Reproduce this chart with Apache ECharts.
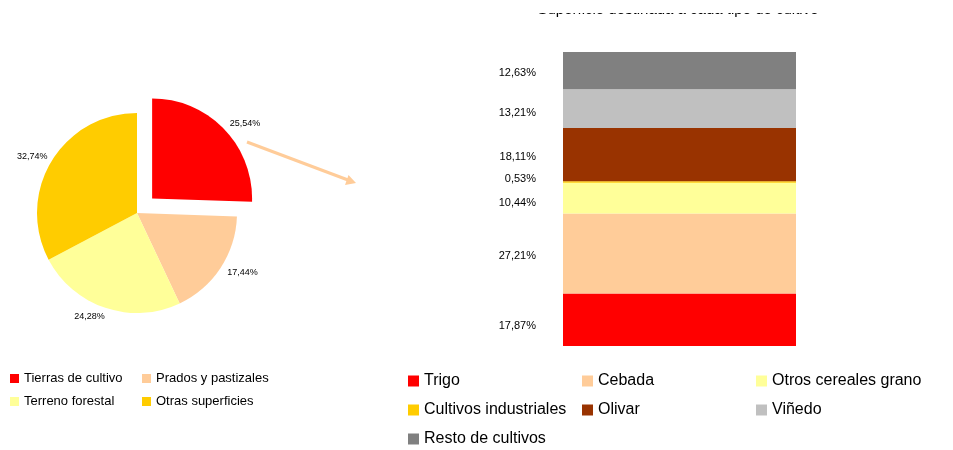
<!DOCTYPE html>
<html><head><meta charset="utf-8">
<script src="https://cdn.jsdelivr.net/npm/echarts@6/dist/echarts.min.js"></script>
<style>html,body{margin:0;background:#fff}#c{width:953px;height:450px}</style>
</head><body><div id="c"></div>
<script>
// Superficie: reparto general (tarta) y detalle de tierras de cultivo (columna 100%)
const pieNames = ['Tierras de cultivo','Prados y pastizales','Terreno forestal','Otras superficies'];
const pieVals  = [25.54, 17.44, 24.28, 32.74];
const pieCols  = ['#FF0000','#FFCC99','#FFFF99','#FFCC00'];
const cropNames = ['Trigo','Cebada','Otros cereales grano','Cultivos industriales','Olivar','Viñedo','Resto de cultivos'];
const cropVals  = [17.87, 27.21, 10.44, 0.53, 18.11, 13.21, 12.63];
const cropCols  = ['#FF0000','#FFCC99','#FFFF99','#FFCC00','#993300','#C0C0C0','#808080'];
const TITLE = 'Superficie destinada a cada tipo de cultivo';
// small label nudges, as in the original
const pieLabelOff = [[0,-6],[0,0],[2,1],[3,-1]];
const labelDy = [6, 3, 5, -3, 2, 4, 2];

const F = 'Liberation Sans, Arial, sans-serif';
const pct = v => v.toFixed(2).replace('.', ',') + '%';

const leg = (data, left, top, sz, gap, fs) => ({
  data, left, top, orient:'vertical', itemGap:gap, itemWidth:sz, itemHeight:sz, icon:'rect',
  selectedMode:false, padding:0, textStyle:{fontSize:fs, color:'#000', fontFamily:F}
});

const c = echarts.init(document.getElementById('c'), null, {renderer:'canvas'});
c.setOption({
  animation:false,
  textStyle:{fontFamily:F},
  grid:{left:563, right:157, top:52, bottom:104},
  xAxis:{type:'category', data:['Cultivos'], show:false},
  yAxis:{type:'value', min:0, max:100, show:false},
  legend:[
    leg(['Tierras de cultivo','Terreno forestal'], 10, 372, 9, 10, 13),
    leg(['Prados y pastizales','Otras superficies'], 142, 372, 9, 10, 13),
    leg(['Trigo','Cultivos industriales','Resto de cultivos'], 408, 373, 11, 13, 16),
    leg(['Cebada','Olivar'], 582, 373, 11, 13, 16),
    leg(['Otros cereales grano','Viñedo'], 756, 373, 11, 13, 16)
  ],
  series:[
    {type:'pie', center:[137,213], radius:100, startAngle:90, selectedMode:'single', selectedOffset:21,
      avoidLabelOverlap:false, emphasis:{disabled:true},
      label:{position:'outside', fontSize:9, color:'#000', fontFamily:F, distanceToLabelLine:0,
        formatter:p=>pct(p.value)},
      labelLine:{show:false, length:8, length2:0},
      data:pieNames.map((n,i)=>({name:n, value:pieVals[i], selected:i===0,
        itemStyle:{color:pieCols[i]}, label:{offset:pieLabelOff[i]}}))},
    ...cropNames.map((n,i)=>({type:'bar', name:n, stack:'s', barWidth:'100%', data:[cropVals[i]],
      itemStyle:{color:cropCols[i]}, emphasis:{disabled:true},
      label:{show:true, position:'left', distance:27, offset:[0,labelDy[i]], fontSize:11, color:'#000',
        fontFamily:F, formatter:p=>pct(p.value)}}))
  ],
  graphic:[
    // title: its top is cut off in the original image, so a white strip hides it
    {type:'group', z:100, children:[
      {type:'text', x:678, y:17, style:{text:TITLE, fill:'#000', font:'15px '+F, textAlign:'center', textVerticalAlign:'bottom'}},
      {type:'rect', shape:{x:0, y:0, width:953, height:13}, style:{fill:'#fff'}}
    ]},
    // arrow from the exploded slice to the detail column
    {type:'polyline', z:10, shape:{points:[[247,142],[348,180]]}, style:{stroke:'#FFCC99', lineWidth:3, fill:null}},
    {type:'polygon', z:10, shape:{points:[[356,183],[345,185],[348.5,175]]}, style:{fill:'#FFCC99'}}
  ]
});
</script></body></html>
